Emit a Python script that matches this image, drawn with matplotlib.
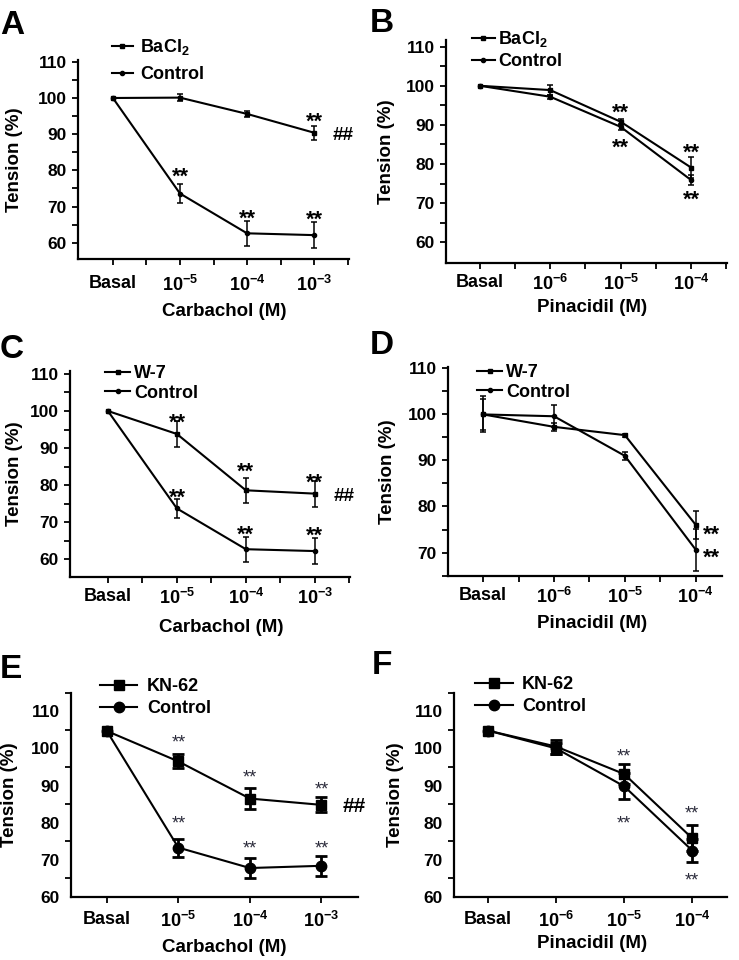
import matplotlib
matplotlib.use('Agg')
import matplotlib.pyplot as plt
from matplotlib.ticker import FixedLocator, NullFormatter, FixedFormatter

plt.rcParams['font.family'] = ['Liberation Sans', 'DejaVu Sans']
plt.rcParams['font.weight'] = 'bold'
plt.rcParams['mathtext.fontset'] = 'custom'
plt.rcParams['mathtext.rm'] = 'Liberation Sans:bold'
plt.rcParams['mathtext.bf'] = 'Liberation Sans:bold'
plt.rcParams['mathtext.it'] = 'Liberation Sans:bold:italic'
plt.rcParams['mathtext.default'] = 'rm'

W, H = 739, 960
fig = plt.figure(figsize=(W / 100, H / 100), dpi=100)

# ---------------- data ----------------
doses = [0, 1, 2, 3]
carb_labels = ['Basal', r'$10^{-5}$', r'$10^{-4}$', r'$10^{-3}$']
pina_labels = ['Basal', r'$10^{-6}$', r'$10^{-5}$', r'$10^{-4}$']

A_bacl2 = [100, 100.1, 95.6, 90.4]
A_bacl2_err = [0, 0.9, 0.9, 1.9]
A_ctrl = [100, 73.6, 62.6, 62.1]
A_ctrl_err = [0, 2.6, 3.4, 3.5]

B_bacl2 = [100, 98.9, 90.8, 79.1]
B_bacl2_err = [0, 1.3, 0.8, 2.8]
B_ctrl = [100, 97.2, 89.5, 75.9]
B_ctrl_err = [0, 0.5, 0.8, 1.2]

C_w7 = [100, 93.8, 78.6, 77.7]
C_w7_err = [0, 3.4, 3.4, 3.5]
C_ctrl = [100, 73.7, 62.7, 62.2]
C_ctrl_err = [0, 2.5, 3.4, 3.5]

D_w7 = [100, 97.3, 95.5, 76.0]
D_w7_err = [3.4, 0.8, 0.3, 3.0]
D_ctrl = [100, 99.6, 91.0, 70.6]
D_ctrl_err = [3.9, 2.4, 0.8, 4.6]

E_kn = [104.7, 96.5, 86.5, 84.8]
E_kn_err = [0, 1.9, 2.8, 2.0]
E_ctrl = [104.7, 73.3, 67.8, 68.4]
E_ctrl_err = [0, 2.4, 2.7, 2.7]

F_kn = [104.8, 100.5, 93.1, 75.8]
F_kn_err = [0, 1.9, 2.7, 3.5]
F_ctrl = [104.8, 100.0, 89.8, 72.5]
F_ctrl_err = [0, 1.5, 3.5, 3.2]

# star annotations: (x, y, text)
A_marks = [(3, 95.2, '**'), (1, 79.9, '**'), (2, 68.3, '**'), (3, 68.1, '**')]
A_hash = (3.27, 90.2)
B_marks = [(2, 94.6, '**'), (2, 85.7, '**'), (3, 84.4, '**'), (3, 72.5, '**')]
C_marks = [(1, 98.5, '**'), (2, 85.2, '**'), (3, 82.4, '**'),
           (1, 78.4, '**'), (2, 68.3, '**'), (3, 68.0, '**')]
C_hash = (3.27, 77.4)
D_marks = [(3.1, 75.3, '**'), (3.1, 70.2, '**')]
E_marks = [(1, 102.9, '**'), (2, 93.6, '**'), (3, 90.5, '**'),
           (1, 81.2, '**'), (2, 74.4, '**'), (3, 74.4, '**')]
E_hash = (3.29, 84.8)
F_marks = [(2, 99.3, '**'), (2, 81.2, '**'), (3, 84.0, '**'), (3, 65.8, '**')]


def rect(l, r, t, b):
    return [l / W, 1 - b / H, (r - l) / W, (b - t) / H]


def make_axes(l, r, t, b, xlim, ylim, xlabels, xname, ylab_dx, xlab_xy, xpad):
    ax = fig.add_axes(rect(l, r, t, b))
    ax.set_xlim(*xlim)
    ax.set_ylim(*ylim)
    for s in ('top', 'right'):
        ax.spines[s].set_visible(False)
    for s in ('left', 'bottom'):
        ax.spines[s].set_linewidth(1.6)
    ax.set_xticks(doses)
    ax.set_xticklabels(xlabels, fontsize=13, fontweight='bold')
    ax.tick_params(axis='x', which='both', direction='out', length=4, width=1.3, pad=xpad)
    ax.tick_params(axis='y', which='both', direction='out', length=4, width=1.3, pad=4,
                   labelsize=12.5)
    ax.set_ylabel('Tension (%)', fontsize=13.5, fontweight='bold', va='center')
    ax.yaxis.set_label_coords(-ylab_dx / (r - l), 0.5)
    ax.set_xlabel(xname, fontsize=13.5, fontweight='bold', va='center')
    ax.xaxis.set_label_coords((xlab_xy[0] - l) / (r - l), -(xlab_xy[1] - b) / (b - t))
    return ax


def series(ax, y, err, marker, ms, lw=1.5, elw=1.1, cap=2.5):
    line, = ax.plot(doses, y, color='black', lw=lw, marker=marker, ms=ms,
                    markerfacecolor='black', markeredgecolor='black', zorder=3)
    xs = [d for d, e in zip(doses, err) if e > 0]
    ys = [v for v, e in zip(y, err) if e > 0]
    es = [e for e in err if e > 0]
    if xs:
        ax.errorbar(xs, ys, yerr=es, fmt='none', ecolor='black', elinewidth=elw,
                    capsize=cap, capthick=elw, zorder=2)
    return line


def stars(ax, marks, size=15.5, weight='bold', color='black'):
    for xx, yy, s in marks:
        ax.annotate(s, xy=(xx, yy), xytext=(0, -0.57 * size), textcoords='offset points',
                    ha='center' if xx == int(xx) else 'left', va='baseline', fontsize=size,
                    fontweight=weight, color=color, annotation_clip=False)


def hashes(ax, pos, size=13.5):
    ax.annotate('##', xy=pos, xytext=(0, -0.36 * size), textcoords='offset points',
                ha='left', va='baseline', fontsize=size, fontweight='bold',
                color='black', annotation_clip=False)


def legend(ax, handles, labels, lx, ly, hl, htp, ls):
    ax.legend(handles, labels, loc='upper left', bbox_to_anchor=(lx / W, 1 - ly / H),
              bbox_transform=fig.transFigure, frameon=False, borderpad=0,
              borderaxespad=0, handlelength=hl, handletextpad=htp, labelspacing=ls,
              prop={'size': 13, 'weight': 'bold'})


def y_ticks_std(ax, majors, minors):
    ax.yaxis.set_major_locator(FixedLocator(majors))
    ax.yaxis.set_minor_locator(FixedLocator(minors))
    ax.yaxis.set_minor_formatter(NullFormatter())


def y_ticks_shifted(ax, tickpos, labelpos):
    # tick marks without labels; labels without tick marks
    ax.yaxis.set_major_locator(FixedLocator(tickpos))
    ax.yaxis.set_major_formatter(NullFormatter())
    ax.yaxis.set_minor_locator(FixedLocator(labelpos))
    ax.yaxis.set_minor_formatter(FixedFormatter([str(v) for v in labelpos]))
    ax.tick_params(axis='y', which='minor', length=0, pad=8, labelsize=12.5)


def x_minor(ax, pos):
    ax.xaxis.set_minor_locator(FixedLocator(pos))


# ---------------- Panel A ----------------
axA = make_axes(78, 349, 60, 259, (-0.52, 3.52), (55.5, 110.5), carb_labels,
                'Carbachol (M)', 63, (224, 312), 7.5)
y_ticks_std(axA, [60, 70, 80, 90, 100, 110], [65, 75, 85, 95, 105])
x_minor(axA, [0.5, 1.5, 2.5, 3.5])
h1 = series(axA, A_bacl2, A_bacl2_err, 's', 3)
h2 = series(axA, A_ctrl, A_ctrl_err, 'o', 3)
stars(axA, A_marks)
hashes(axA, A_hash)
legend(axA, [h1, h2], [r'BaCl$_2$', 'Control'], 112, 37, 1.15, 0.4, 0.52)

# ---------------- Panel B ----------------
axB = make_axes(446, 727, 40, 263, (-0.48, 3.51), (54.7, 111.7), pina_labels,
                'Pinacidil (M)', 59, (592, 308), 4)
y_ticks_std(axB, [60, 70, 80, 90, 100, 110], [65, 75, 85, 95, 105])
x_minor(axB, [0.5, 1.5, 2.5, 3.5])
h1 = series(axB, B_bacl2, B_bacl2_err, 's', 3)
h2 = series(axB, B_ctrl, B_ctrl_err, 'o', 3)
stars(axB, B_marks)
legend(axB, [h1, h2], [r'BaCl$_2$', 'Control'], 472, 29, 1.25, 0.2, 0.22)

# ---------------- Panel C ----------------
axC = make_axes(70, 350, 371, 577, (-0.55, 3.51), (55.2, 110.8), carb_labels,
                'Carbachol (M)', 55, (221, 628), 4)
y_ticks_std(axC, [60, 70, 80, 90, 100, 110], [65, 75, 85, 95, 105])
x_minor(axC, [0.5, 1.5, 2.5, 3.5])
h1 = series(axC, C_w7, C_w7_err, 's', 3)
h2 = series(axC, C_ctrl, C_ctrl_err, 'o', 3)
stars(axC, C_marks)
hashes(axC, C_hash)
legend(axC, [h1, h2], ['W-7', 'Control'], 105, 365, 1.4, 0.2, 0.15)

# ---------------- Panel D ----------------
axD = make_axes(448, 722, 367, 576, (-0.495, 3.37), (64.9, 110.3), pina_labels,
                'Pinacidil (M)', 60, (592, 623), 4)
y_ticks_std(axD, [70, 80, 90, 100, 110], [65, 75, 85, 95, 105])
x_minor(axD, [0.5, 1.5, 2.5])
h1 = series(axD, D_w7, D_w7_err, 's', 3)
h2 = series(axD, D_ctrl, D_ctrl_err, 'o', 3)
stars(axD, D_marks)
legend(axD, [h1, h2], ['W-7', 'Control'], 477, 364, 1.4, 0.2, 0.15)

# ---------------- Panel E ----------------
axE = make_axes(71, 358, 692.7, 897, (-0.5, 3.51), (60, 115), carb_labels,
                'Carbachol (M)', 61, (224, 948), 6)
y_ticks_shifted(axE, [65, 75, 85, 95, 105, 115], [60, 70, 80, 90, 100, 110])
h1 = series(axE, E_kn, E_kn_err, 's', 7, lw=1.5, elw=2, cap=4.5)
h2 = series(axE, E_ctrl, E_ctrl_err, 'o', 7.5, lw=1.5, elw=2, cap=4.5)
stars(axE, E_marks, size=13, weight='normal', color='#2b2b3b')
hashes(axE, E_hash, size=15)
legend(axE, [h1, h2], ['KN-62', 'Control'], 100, 678, 2.05, 0.55, 0.3)

# ---------------- Panel F ----------------
axF = make_axes(454, 727, 692.7, 897, (-0.5, 3.51), (60, 115), pina_labels,
                'Pinacidil (M)', 59, (592, 943), 6)
y_ticks_shifted(axF, [65, 75, 85, 95, 105, 115], [60, 70, 80, 90, 100, 110])
h1 = series(axF, F_kn, F_kn_err, 's', 7, lw=1.5, elw=2, cap=4.5)
h2 = series(axF, F_ctrl, F_ctrl_err, 'o', 7.5, lw=1.5, elw=2, cap=4.5)
stars(axF, F_marks, size=13, weight='normal', color='#2b2b3b')
legend(axF, [h1, h2], ['KN-62', 'Control'], 475, 676, 2.1, 0.5, 0.3)

# ---------------- Panel letters ----------------
for letter, lx, ly in [('A', 0, 26), ('B', 370, 23), ('C', 0, 350),
                       ('D', 370, 346), ('E', 0, 670), ('F', 372, 665)]:
    fig.text(lx / W, 1 - ly / H, letter, fontsize=24, fontweight='bold',
             ha='left', va='center')

fig.savefig('out.png', dpi=100)
